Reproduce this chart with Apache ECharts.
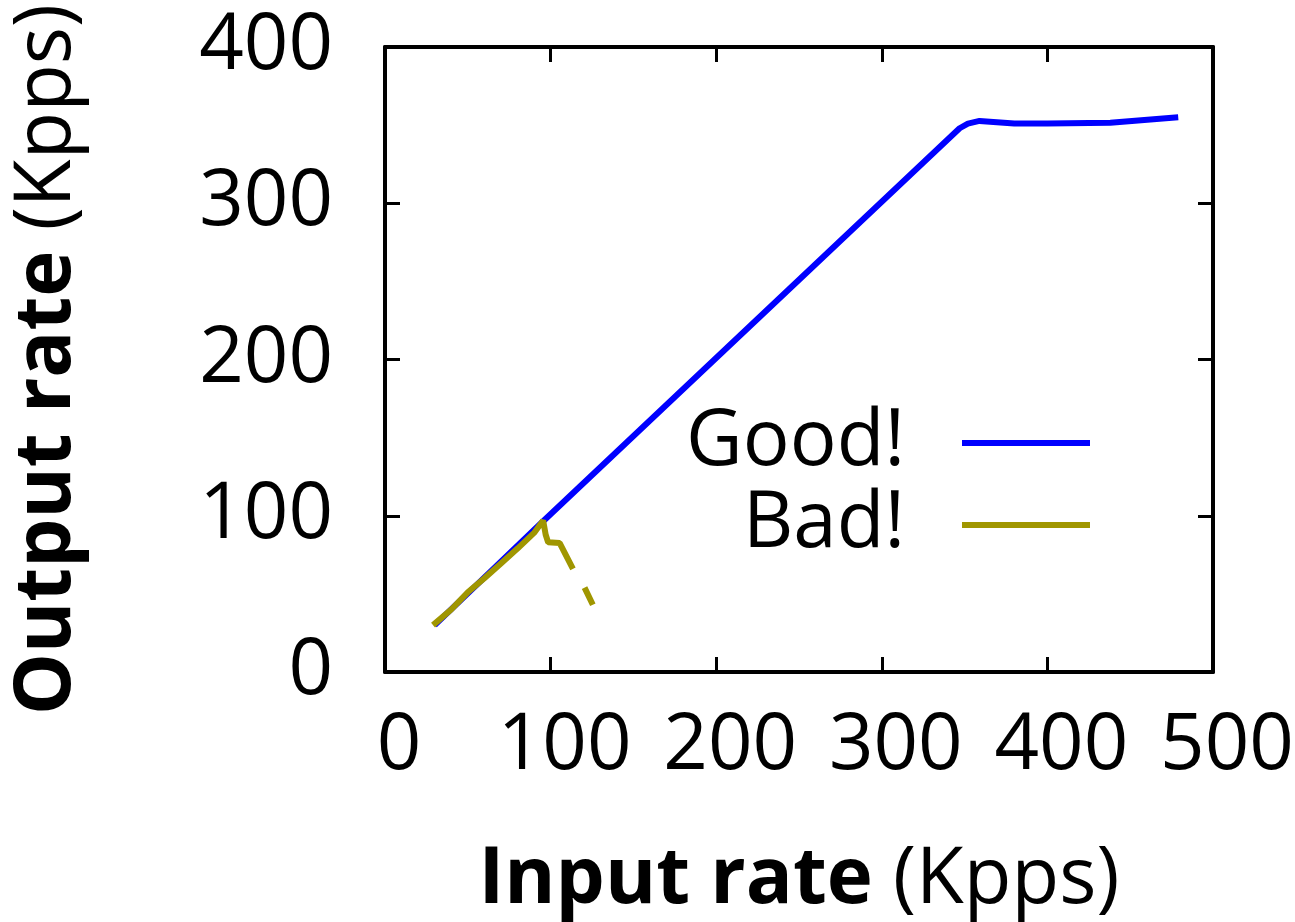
<!DOCTYPE html>
<html>
<head>
<meta charset="utf-8">
<script src="https://cdn.jsdelivr.net/npm/echarts@6/dist/echarts.min.js"></script>
<style>
html,body{margin:0;padding:0;background:#fff;}
#chart{width:1295px;height:922px;}
</style>
</head>
<body>
<div id="chart"></div>
<script>
var seriesNames = ['Good!', 'Bad!'];
var goodX = [30, 95, 347, 352, 359, 380, 400, 438, 479];
var goodY = [30, 96, 348, 351, 352.7, 351, 351, 351.5, 355];
var badX = [29, 40, 50, 60, 70, 80, 90, 95.5, 97, 98.5, 105.5, 113.5, 117, 120.5, 125.5];
var badY = [30, 40, 51, 60, 69.5, 79, 89, 97, 88, 83, 82.5, 66, null, 54, 43];
var xTicks = [0, 100, 200, 300, 400, 500];
var yTicks = [0, 100, 200, 300, 400];

function pairs(xs, ys) {
  return xs.map(function (x, i) { return [x, ys[i] === null ? '-' : ys[i]]; });
}

var FONT = '"Open Sans", "Noto Sans", sans-serif';
var FS = 78;
var axisLineStyle = { color: '#000', width: 4 };
var tickStyle = { color: '#000', width: 3 };

var chart = echarts.init(document.getElementById('chart'), null, { renderer: 'canvas' });
chart.setOption({
  backgroundColor: '#fff',
  animation: false,
  grid: { left: 385, right: 82, top: 47, bottom: 250, containLabel: false, outerBoundsMode: 'none' },
  legend: {
    orient: 'vertical',
    align: 'right',
    right: 200,
    top: 399,
    itemWidth: 128,
    itemHeight: 6,
    itemGap: 4,
    icon: 'rect',
    data: seriesNames,
    textStyle: { fontFamily: FONT, fontSize: FS, color: '#000', lineHeight: 78, padding: [0, 52, 0, 0] }
  },
  xAxis: [{
    type: 'value', min: xTicks[0], max: xTicks[xTicks.length - 1], interval: 100,
    position: 'bottom',
    name: '{b|Input rate }{n|(Kpps)}',
    nameLocation: 'middle', nameGap: 170,
    nameTextStyle: {
      rich: {
        b: { fontFamily: FONT, fontSize: FS, fontWeight: 'bold', color: '#000' },
        n: { fontFamily: FONT, fontSize: FS, color: '#000' }
      }
    },
    axisLine: { show: true, onZero: false, lineStyle: axisLineStyle },
    axisTick: { show: true, inside: true, length: 15, lineStyle: tickStyle },
    axisLabel: { fontFamily: FONT, fontSize: FS, color: '#000', margin: 36, padding: [0, 0, 0, 28] },
    splitLine: { show: false }
  }, {
    type: 'value', min: xTicks[0], max: xTicks[xTicks.length - 1], interval: 100,
    position: 'top',
    axisLine: { show: true, onZero: false, lineStyle: axisLineStyle },
    axisTick: { show: true, inside: true, length: 15, lineStyle: tickStyle },
    axisLabel: { show: false },
    splitLine: { show: false }
  }],
  yAxis: [{
    type: 'value', min: yTicks[0], max: yTicks[yTicks.length - 1], interval: 100,
    position: 'left',
    name: '{b|Output rate }{n|(Kpps)}',
    nameLocation: 'middle', nameGap: 298, nameRotate: 90,
    nameTextStyle: {
      rich: {
        b: { fontFamily: FONT, fontSize: FS, fontWeight: 'bold', color: '#000' },
        n: { fontFamily: FONT, fontSize: FS, color: '#000' }
      }
    },
    axisLine: { show: true, onZero: false, lineStyle: axisLineStyle },
    axisTick: { show: true, inside: true, length: 15, lineStyle: tickStyle },
    axisLabel: { fontFamily: FONT, fontSize: FS, color: '#000', margin: 52 },
    splitLine: { show: false }
  }, {
    type: 'value', min: yTicks[0], max: yTicks[yTicks.length - 1], interval: 100,
    position: 'right',
    axisLine: { show: true, onZero: false, lineStyle: axisLineStyle },
    axisTick: { show: true, inside: true, length: 15, lineStyle: tickStyle },
    axisLabel: { show: false },
    splitLine: { show: false }
  }],
  series: [{
    name: seriesNames[0], type: 'line', xAxisIndex: 0, yAxisIndex: 0,
    data: pairs(goodX, goodY), showSymbol: false, symbol: 'none',
    lineStyle: { color: '#0000ff', width: 6 }, itemStyle: { color: '#0000ff' }
  }, {
    name: seriesNames[1], type: 'line', xAxisIndex: 0, yAxisIndex: 0,
    data: pairs(badX, badY), showSymbol: false, symbol: 'none', connectNulls: false,
    lineStyle: { color: '#a09600', width: 6 }, itemStyle: { color: '#a09600' }
  }]
});
</script>
</body>
</html>
